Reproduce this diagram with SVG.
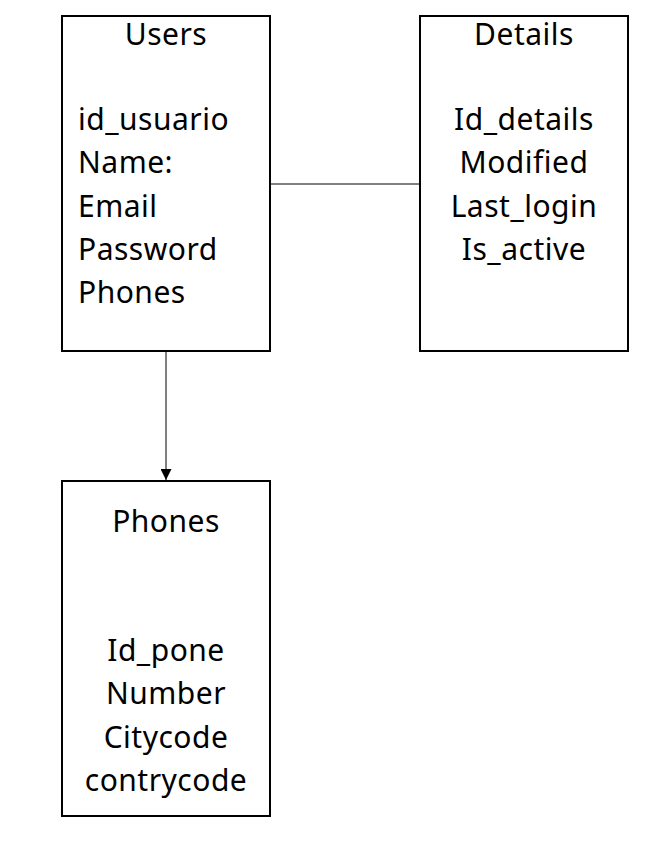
<svg xmlns="http://www.w3.org/2000/svg" width="670" height="842" viewBox="0 0 670 842">
<style>
.box{fill:#fff;stroke:#000;stroke-width:2}
.t{font-family:"Noto Sans","Open Sans","Liberation Sans",sans-serif;font-size:30px;letter-spacing:0.5px;fill:#000}
.c{text-anchor:middle}
.conn{stroke:#000;stroke-width:1;fill:none}
</style>
<defs>
<marker id="arr" viewBox="0 0 10 10" refX="10" refY="5" markerWidth="11" markerHeight="11" markerUnits="userSpaceOnUse" orient="auto">
<path d="M0,0 L10,5 L0,10 Z" fill="#000"/>
</marker>
</defs>
<rect width="670" height="842" fill="#fff"/>
<g id="connectors">
<line class="conn" x1="270" y1="184" x2="420" y2="184"/>
<line class="conn" x1="166" y1="352" x2="166" y2="480" marker-end="url(#arr)"/>
</g>
<g id="users">
<rect class="box" x="62" y="16" width="208" height="335"/>
<text class="t c" x="166" y="45">Users</text>
<text class="t" x="78" y="130">id_usuario</text>
<text class="t" x="78" y="173">Name:</text>
<text class="t" x="78" y="217">Email</text>
<text class="t" x="78" y="260">Password</text>
<text class="t" x="78" y="303">Phones</text>
</g>
<g id="details">
<rect class="box" x="420" y="16" width="208" height="335"/>
<text class="t c" x="524" y="45">Details</text>
<text class="t c" x="524" y="130">Id_details</text>
<text class="t c" x="524" y="173">Modified</text>
<text class="t c" x="524" y="217">Last_login</text>
<text class="t c" x="524" y="260">Is_active</text>
</g>
<g id="phones">
<rect class="box" x="62" y="481" width="208" height="335"/>
<text class="t c" x="166" y="532">Phones</text>
<text class="t c" x="166" y="661">Id_pone</text>
<text class="t c" x="166" y="704">Number</text>
<text class="t c" x="166" y="748">Citycode</text>
<text class="t c" x="166" y="791">contrycode</text>
</g>
</svg>
